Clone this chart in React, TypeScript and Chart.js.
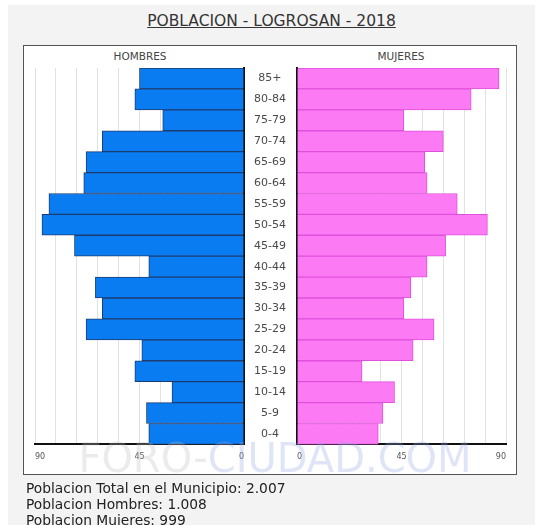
import React, { useEffect, useRef } from 'react';
import { Chart, registerables } from 'chart.js';

Chart.register(...registerables);

const AGE_GROUPS = ['85+', '80-84', '75-79', '70-74', '65-69', '60-64', '55-59', '50-54', '45-49', '40-44', '35-39', '30-34', '25-29', '20-24', '15-19', '10-14', '5-9', '0-4'];
const HOMBRES = [45, 47, 35, 61, 68, 69, 84, 87, 73, 41, 64, 61, 68, 44, 47, 31, 42, 41];
const MUJERES = [87, 75, 46, 63, 55, 56, 69, 82, 64, 56, 49, 46, 59, 50, 28, 42, 37, 35];
const AXIS_MAX = 90;
const GRID_STEP = 9;
const AXIS_LABELS = [0, 45, 90];
const TITLE = 'POBLACION - LOGROSAN - 2018';
const LEFT_TITLE = 'HOMBRES';
const RIGHT_TITLE = 'MUJERES';
const FOOTER_LINES = [
  'Poblacion Total en el Municipio: 2.007',
  'Poblacion Hombres: 1.008',
  'Poblacion Mujeres: 999',
];

const FONT = "'DejaVu Sans', Verdana, sans-serif";

// left side plots men as negative values so the axis grows leftwards
function xScale(leftSide: boolean) {
  return {
    min: leftSide ? -AXIS_MAX : 0,
    max: leftSide ? 0 : AXIS_MAX,
    ticks: {
      stepSize: GRID_STEP,
      autoSkip: false,
      maxRotation: 0,
      align: 'inner',
      padding: 8,
      color: '#555',
      font: { family: FONT, size: 8 },
      callback: (v: any) => {
        const a = Math.abs(Math.round(Number(v)));
        return AXIS_LABELS.includes(a) ? String(a) : '';
      },
    },
    grid: { color: '#e2e2e2', drawTicks: false, lineWidth: 1 },
    border: { display: true, color: '#111', width: 2 },
  };
}

export default function App() {
  const leftRef = useRef<HTMLCanvasElement>(null);
  const rightRef = useRef<HTMLCanvasElement>(null);

  useEffect(() => {
    const left = new Chart(leftRef.current!, {
      type: 'bar',
      data: {
        labels: AGE_GROUPS,
        datasets: [
          {
            data: HOMBRES.map((v) => -v),
            backgroundColor: '#0a7cf2',
            borderColor: '#1c3c70',
            borderWidth: 1,
            categoryPercentage: 1,
            barPercentage: 1,
          },
        ],
      },
      options: {
        indexAxis: 'y',
        animation: false,
        responsive: false,
        maintainAspectRatio: false,
        layout: { padding: { left: 11, top: 22, right: 0, bottom: 4 } },
        plugins: { legend: { display: false }, tooltip: { enabled: false } },
        scales: {
          x: xScale(true) as any,
          y: {
            position: 'right',
            grid: { display: false, drawTicks: false },
            border: { display: true, color: '#111', width: 2 },
            ticks: {
              crossAlign: 'center',
              padding: 10,
              color: '#4a4a4a',
              font: { family: FONT, size: 11 },
            },
            afterFit: (s: any) => {
              s.width = 53;
            },
          } as any,
        },
      },
    });
    const right = new Chart(rightRef.current!, {
      type: 'bar',
      data: {
        labels: AGE_GROUPS,
        datasets: [
          {
            data: MUJERES,
            backgroundColor: '#fd7af5',
            borderColor: '#e050dc',
            borderWidth: 1,
            categoryPercentage: 1,
            barPercentage: 1,
          },
        ],
      },
      options: {
        indexAxis: 'y',
        animation: false,
        responsive: false,
        maintainAspectRatio: false,
        layout: { padding: { left: 11, top: 22, right: 10, bottom: 4 } },
        plugins: { legend: { display: false }, tooltip: { enabled: false } },
        scales: {
          x: xScale(false) as any,
          y: {
            position: 'left',
            grid: { display: false, drawTicks: false },
            border: { display: true, color: '#111', width: 2 },
            ticks: { display: false },
            afterFit: (s: any) => {
              s.width = 0;
            },
          } as any,
        },
      },
    });
    return () => {
      left.destroy();
      right.destroy();
    };
  }, []);

  const abs = (o: React.CSSProperties): React.CSSProperties => ({ position: 'absolute', ...o });

  return (
    <div>
      <div style={abs({ left: 8, top: 5, width: 527, height: 520, background: '#f3f3f3' })} />
      <div
        style={abs({
          left: 8,
          top: 12,
          width: 527,
          textAlign: 'center',
          fontFamily: FONT,
          fontSize: 15.5,
          lineHeight: '18px',
          color: '#333',
          textDecoration: 'underline',
        })}
      >
        {TITLE}
      </div>
      <div
        style={abs({
          left: 23,
          top: 45,
          width: 494,
          height: 430,
          boxSizing: 'border-box',
          border: '1px solid #555',
          background: '#fff',
        })}
      />
      <div
        style={abs({ left: 90, top: 49, width: 100, textAlign: 'center', fontFamily: FONT, fontSize: 10.5, lineHeight: '14px', color: '#444' })}
      >
        {LEFT_TITLE}
      </div>
      <div
        style={abs({ left: 351, top: 49, width: 100, textAlign: 'center', fontFamily: FONT, fontSize: 10.5, lineHeight: '14px', color: '#444' })}
      >
        {RIGHT_TITLE}
      </div>
      <canvas ref={leftRef} width={273} height={428} style={abs({ left: 24, top: 46, width: 273, height: 428 })} />
      <canvas ref={rightRef} width={230} height={428} style={abs({ left: 286, top: 46, width: 230, height: 428 })} />
      <div
        style={abs({
          left: 70,
          top: 438,
          width: 410,
          textAlign: 'center',
          fontFamily: FONT,
          fontSize: 40,
          lineHeight: '40px',
          whiteSpace: 'nowrap',
          pointerEvents: 'none',
        })}
      >
        <span style={{ color: 'rgba(190,190,200,0.3)' }}>FORO-</span>
        <span style={{ color: 'rgba(150,165,230,0.3)' }}>CIUDAD.COM</span>
      </div>
      {FOOTER_LINES.map((t, i) => (
        <div
          key={i}
          style={abs({ left: 26, top: 480 + i * 16, fontFamily: FONT, fontSize: 13.8, lineHeight: '16px', color: '#222', whiteSpace: 'nowrap' })}
        >
          {t}
        </div>
      ))}
    </div>
  );
}
